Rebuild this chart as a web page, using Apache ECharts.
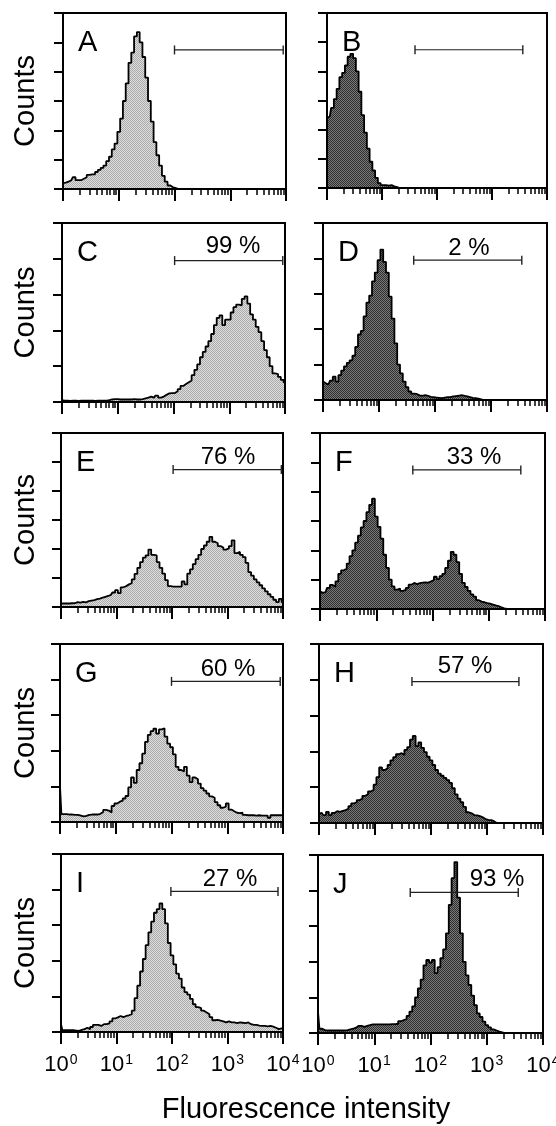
<!DOCTYPE html>
<html>
<head>
<meta charset="utf-8">
<title>Fluorescence histograms</title>
<script src="https://cdn.jsdelivr.net/npm/echarts@6/dist/echarts.min.js"></script>
<style>html,body{margin:0;padding:0;background:#fff;}</style>
</head>
<body>
<div id="main" style="width:556px;height:1126px;"></div>
<script type="text/javascript">
// channel centres in log10 units (10^0 .. 10^4), 0.05 apart
var bins = [];
for (var i = 0; i <= 80; i++) bins.push(+(i * 0.05).toFixed(2));

// counts per channel, in y-tick units
var countsA = [
  0.2, 0.22, 0.25, 0.3, 0.4, 0.3, 0.3, 0.35, 0.4, 0.48,
  0.5, 0.5, 0.58, 0.65, 0.72, 0.8, 0.95, 1.1, 1.35, 1.55,
  1.95, 2.4, 3.0, 3.6, 4.3, 4.65, 5.2, 5.35, 5.0, 4.5,
  3.8, 3.0, 2.3, 1.6, 1.15, 0.8, 0.45, 0.25, 0.12, 0.06,
  0.03, 0, 0, 0, 0, 0, 0, 0, 0, 0,
  0, 0, 0, 0, 0, 0, 0, 0, 0, 0,
  0, 0, 0, 0, 0, 0, 0, 0, 0, 0,
  0, 0, 0, 0, 0, 0, 0, 0, 0, 0,
  0];
var countsB = [
  2.4, 2.45, 2.75, 3.05, 3.4, 3.8, 3.95, 4.2, 4.5, 4.6,
  4.45, 4.0, 3.3, 2.5, 1.9, 1.35, 0.9, 0.6, 0.35, 0.17,
  0.1, 0.1, 0.08, 0.1, 0.06, 0.03, 0, 0, 0, 0,
  0, 0, 0, 0, 0, 0, 0, 0, 0, 0,
  0, 0, 0, 0, 0, 0, 0, 0, 0, 0,
  0, 0, 0, 0, 0, 0, 0, 0, 0, 0,
  0, 0, 0, 0, 0, 0, 0, 0, 0, 0,
  0, 0, 0, 0, 0, 0, 0, 0, 0, 0,
  0];
var countsC = [
  0.05, 0.04, 0.04, 0.03, 0.04, 0.04, 0.03, 0.04, 0.04, 0.04,
  0.04, 0.04, 0.03, 0.04, 0.04, 0.04, 0.04, 0.05, 0.07, 0.08,
  0.08, 0.07, 0.07, 0.07, 0.07, 0.07, 0.08, 0.07, 0.07, 0.08,
  0.1, 0.12, 0.15, 0.12, 0.18, 0.12, 0.15, 0.2, 0.24, 0.25,
  0.25, 0.3, 0.36, 0.45, 0.5, 0.55, 0.6, 0.75, 0.9, 1.05,
  1.25, 1.4, 1.55, 1.7, 1.9, 2.15, 2.35, 2.42, 2.15, 2.3,
  2.3, 2.5, 2.65, 2.72, 2.7, 2.88, 2.95, 2.75, 2.45, 2.3,
  2.1, 1.95, 1.7, 1.45, 1.25, 1.0, 0.8, 0.78, 0.7, 0.62,
  0.55];
var countsD = [
  0.52, 0.47, 0.44, 0.55, 0.66, 0.52, 0.7, 0.83, 0.95, 1.05,
  1.12, 1.25, 1.5, 1.85, 1.95, 2.36, 2.75, 2.95, 3.35, 3.6,
  3.95, 4.25, 3.9, 3.6, 2.92, 2.3, 1.6, 1.0, 0.75, 0.52,
  0.36, 0.24, 0.18, 0.17, 0.13, 0.12, 0.14, 0.12, 0.09, 0.08,
  0.07, 0.06, 0.05, 0.07, 0.08, 0.08, 0.1, 0.11, 0.12, 0.14,
  0.12, 0.1, 0.08, 0.06, 0.05, 0.04, 0.02, 0, 0, 0,
  0, 0, 0, 0, 0, 0, 0, 0, 0, 0,
  0, 0, 0, 0, 0, 0, 0, 0, 0, 0,
  0];
var countsE = [
  0.12, 0.12, 0.12, 0.12, 0.13, 0.13, 0.17, 0.15, 0.18, 0.16,
  0.2, 0.22, 0.24, 0.27, 0.29, 0.32, 0.35, 0.38, 0.42, 0.5,
  0.58, 0.48, 0.68, 0.72, 0.78, 0.82, 0.95, 1.14, 1.35, 1.55,
  1.7, 1.78, 1.98, 1.8, 1.78, 1.55, 1.35, 1.15, 0.93, 0.72,
  0.7, 0.7, 0.7, 0.7, 0.88, 0.78, 1.15, 1.3, 1.48, 1.65,
  1.8, 2.0, 2.12, 2.25, 2.42, 2.25, 2.2, 2.1, 2.05, 1.98,
  2.02, 2.1, 2.3, 1.86, 1.9, 1.8, 1.72, 1.52, 1.2, 1.08,
  0.95, 0.85, 0.75, 0.64, 0.54, 0.44, 0.35, 0.25, 0.17, 0.28,
  0.17];
var countsF = [
  0.6, 0.55, 0.58, 0.72, 0.82, 0.76, 0.94, 1.2, 1.32, 1.38,
  1.55, 1.8, 2.0, 2.26, 2.5, 2.78, 3.0, 3.3, 3.55, 3.76,
  3.15, 2.8, 2.4, 1.85, 1.4, 1.0, 0.77, 0.66, 0.7, 0.62,
  0.65, 0.72, 0.83, 0.89, 0.85, 0.88, 0.9, 0.91, 0.9, 0.94,
  1.0, 1.1, 1.02, 1.12, 1.2, 1.4, 1.65, 1.95, 1.85, 1.6,
  1.2, 0.89, 0.75, 0.62, 0.5, 0.42, 0.3, 0.25, 0.23, 0.2,
  0.18, 0.15, 0.12, 0.1, 0.06, 0.02, 0, 0, 0, 0,
  0, 0, 0, 0, 0, 0, 0, 0, 0, 0,
  0];
var countsG = [
  1.0, 0.22, 0.22, 0.21, 0.21, 0.2, 0.2, 0.18, 0.16, 0.17,
  0.2, 0.21, 0.21, 0.21, 0.23, 0.28, 0.34, 0.32, 0.27, 0.45,
  0.52, 0.57, 0.6, 0.66, 0.73, 0.97, 1.25, 1.1, 1.46, 1.65,
  1.92, 2.25, 2.45, 2.55, 2.62, 2.48, 2.6, 2.63, 2.4, 2.2,
  2.1, 1.9, 1.55, 1.46, 1.42, 1.55, 1.3, 1.12, 1.25, 1.2,
  1.08, 0.95, 0.88, 0.8, 0.72, 0.68, 0.56, 0.47, 0.4, 0.43,
  0.52, 0.35, 0.3, 0.26, 0.25, 0.26, 0.2, 0.19, 0.19, 0.19,
  0.18, 0.19, 0.18, 0.18, 0.18, 0.12, 0.19, 0.19, 0.19, 0.19,
  0.19];
var countsH = [
  0.26, 0.28, 0.22, 0.31, 0.22, 0.28, 0.33, 0.31, 0.34, 0.36,
  0.4, 0.47, 0.55, 0.58, 0.64, 0.68, 0.76, 0.8, 0.88, 0.93,
  1.07, 1.28, 1.55, 1.48, 1.53, 1.62, 1.75, 1.84, 1.92, 1.95,
  1.9, 2.04, 2.12, 2.33, 2.43, 2.15, 2.25, 2.1, 1.98, 1.85,
  1.75, 1.62, 1.48, 1.38, 1.32, 1.26, 1.2, 1.12, 0.97, 0.8,
  0.68, 0.58, 0.45, 0.3, 0.27, 0.22, 0.21, 0.19, 0.16, 0.11,
  0.09, 0.08, 0.05, 0, 0, 0, 0, 0, 0, 0,
  0, 0, 0, 0, 0, 0, 0, 0, 0, 0,
  0];
var countsI = [
  0.22, 0.05, 0.05, 0.05, 0.05, 0.04, 0.03, 0.06, 0.08, 0.12,
  0.08, 0.14, 0.2, 0.2, 0.17, 0.22, 0.22, 0.24, 0.3, 0.38,
  0.41, 0.45, 0.42, 0.45, 0.47, 0.5, 0.6, 0.95, 1.3, 1.7,
  2.05, 2.44, 2.8, 3.1, 3.35, 3.45, 3.61, 3.45, 3.05, 2.5,
  2.15, 1.9, 1.64, 1.5, 1.25, 1.12, 1.05, 0.93, 0.78, 0.7,
  0.67, 0.6, 0.55, 0.5, 0.42, 0.33, 0.34, 0.32, 0.3, 0.27,
  0.3, 0.27, 0.27, 0.25, 0.27, 0.26, 0.25, 0.27, 0.22, 0.2,
  0.2, 0.18, 0.17, 0.17, 0.16, 0.17, 0.15, 0.12, 0.08, 0.1,
  0.1];
var countsJ = [
  0.6, 0.12, 0.08, 0.07, 0.07, 0.07, 0.07, 0.07, 0.07, 0.07,
  0.08, 0.1, 0.12, 0.15, 0.2, 0.2, 0.17, 0.2, 0.22, 0.24,
  0.24, 0.24, 0.24, 0.24, 0.24, 0.24, 0.25, 0.25, 0.26, 0.33,
  0.36, 0.4, 0.48, 0.6, 0.75, 1.0, 1.25, 1.5, 1.9, 2.05,
  1.98, 2.05, 1.68, 1.85, 2.1, 2.35, 2.8, 3.6, 4.35, 4.8,
  3.8, 2.8, 2.0, 1.62, 1.35, 1.05, 0.78, 0.55, 0.45, 0.32,
  0.22, 0.16, 0.1, 0.07, 0.04, 0.02, 0, 0, 0, 0,
  0, 0, 0, 0, 0, 0, 0, 0, 0, 0,
  0];

var panelCounts = [countsA, countsB, countsC, countsD, countsE, countsF, countsG, countsH, countsI, countsJ];
var panelLetters = ['A', 'B', 'C', 'D', 'E', 'F', 'G', 'H', 'I', 'J'];
var yDivisions = [6, 6, 5, 5, 6, 6, 5, 5, 5, 5];
// marker gate, log10 units
var gateFrom = [2.0, 1.6, 2.02, 1.62, 2.02, 1.65, 2.0, 1.66, 1.98, 1.64];
var gateTo = [3.95, 3.56, 3.96, 3.55, 3.97, 3.57, 3.95, 3.57, 3.91, 3.56];
var gatePercent = ['', '', '99 %', '2 %', '76 %', '33 %', '60 %', '57 %', '27 %', '93 %'];
var decadeLabels = ['0', '1', '2', '3', '4'];

// layout: [left, top, width, height] of each frame
var boxes = [
  [63, 13, 223, 176], [327, 13, 220, 175],
  [62, 223, 223, 179], [323, 223, 224, 177],
  [61, 433, 222, 174], [320, 433, 225, 176],
  [60, 644, 223, 178], [319, 644, 224, 179],
  [61, 854, 222, 178], [318, 855, 225, 178]
];
var pctPos = [null, null, [233, 246], [469, 248], [228, 457], [474, 457], [228, 669], [465, 666], [230, 879], [497, 879]];
var GATE_FRAC = 0.79;
var FONT = '"Liberation Sans", Arial, Helvetica, sans-serif';

// halftone-like fills, as in the scanned print
function stipple(c1, c2) {
  var cv = document.createElement('canvas');
  cv.width = 2; cv.height = 2;
  var ctx = cv.getContext('2d');
  ctx.fillStyle = c1; ctx.fillRect(0, 0, 2, 2);
  ctx.fillStyle = c2; ctx.fillRect(0, 0, 1, 1); ctx.fillRect(1, 1, 1, 1);
  return { image: cv, repeat: 'repeat' };
}
var lightFill = stipple('#dedede', '#aaaaaa');
var darkFill = stipple('#7a7a7a', '#2e2e2e');

var minorTicks = [];
for (var d = 0; d < 4; d++) for (var k = 2; k <= 9; k++) minorTicks.push(d + Math.log10(k));

var grid = [], xAxis = [], yAxis = [], series = [], graphic = [];

panelCounts.forEach(function (counts, p) {
  var b = boxes[p];
  var bottomRow = p >= 8;
  grid.push({ left: b[0], top: b[1], width: b[2], height: b[3], show: true,
    borderColor: '#000', borderWidth: 2, backgroundColor: 'rgba(0,0,0,0)', z: 10,
    containLabel: false, outerBoundsMode: 'none' });

  xAxis.push({
    type: 'value', gridIndex: p, position: 'bottom', min: 0, max: 4, interval: 1,
    axisLine: { show: false }, splitLine: { show: false },
    axisTick: { show: true, length: 12, lineStyle: { color: '#000', width: 2 } },
    axisLabel: {
      show: bottomRow, margin: 21,
      formatter: function (v) { return '{b|10}{s|' + decadeLabels[Math.round(v)] + '}'; },
      rich: {
        b: { fontSize: 22, fontFamily: FONT, color: '#000', lineHeight: 24 },
        s: { fontSize: 14, fontFamily: FONT, color: '#000', lineHeight: 14, verticalAlign: 'top', padding: [0, 0, 0, 1] }
      }
    }
  });
  xAxis.push({
    type: 'value', gridIndex: p, position: 'bottom', min: 0, max: 4,
    axisLine: { show: false }, splitLine: { show: false }, axisLabel: { show: false },
    axisTick: { show: true, length: 6, customValues: minorTicks, lineStyle: { color: '#000', width: 1.5 } }
  });
  yAxis.push({
    type: 'value', gridIndex: p, min: 0, max: yDivisions[p], interval: 1,
    axisLine: { show: false }, splitLine: { show: false }, axisLabel: { show: false },
    axisTick: { show: true, length: 9, lineStyle: { color: '#000', width: 2 } }
  });

  series.push({
    type: 'line', xAxisIndex: 2 * p, yAxisIndex: p, step: 'middle', symbol: 'none',
    silent: true, z: 2,
    data: bins.map(function (x, i) { return [x, counts[i]]; }),
    lineStyle: { color: '#000', width: 1.8 },
    areaStyle: { color: p % 2 === 0 ? lightFill : darkFill, opacity: 1 }
  });
  var level = GATE_FRAC * yDivisions[p];
  series.push({
    type: 'line', xAxisIndex: 2 * p, yAxisIndex: p, silent: true, z: 4,
    data: [[gateFrom[p], level], [gateTo[p], level]],
    symbol: 'rect', symbolSize: [1.4, 9],
    itemStyle: { color: '#222' }, lineStyle: { color: '#222', width: 1.2 }
  });

  graphic.push({ type: 'text', x: b[0] + 15, y: b[1] + 30,
    style: { text: panelLetters[p], fill: '#000', font: '29px ' + FONT,
      align: 'left', textAlign: 'left', verticalAlign: 'middle', textVerticalAlign: 'middle' } });
  if (pctPos[p]) {
    graphic.push({ type: 'text', x: pctPos[p][0], y: pctPos[p][1],
      style: { text: gatePercent[p], fill: '#000', font: '24px ' + FONT,
        align: 'center', textAlign: 'center', verticalAlign: 'middle', textVerticalAlign: 'middle' } });
  }
  if (p % 2 === 0) {
    graphic.push({ type: 'text', x: 26, y: b[1] + b[3] / 2, rotation: Math.PI / 2,
      style: { text: 'Counts', fill: '#000', font: '29px ' + FONT,
        align: 'center', textAlign: 'center', verticalAlign: 'middle', textVerticalAlign: 'middle' } });
  }
});

graphic.push({ type: 'text', x: 306, y: 1110,
  style: { text: 'Fluorescence intensity', fill: '#000', font: '29px ' + FONT,
    align: 'center', textAlign: 'center', verticalAlign: 'middle', textVerticalAlign: 'middle' } });

var myChart = echarts.init(document.getElementById('main'), null, { renderer: 'canvas' });
myChart.setOption({
  animation: false,
  backgroundColor: '#fff',
  textStyle: { fontFamily: FONT },
  grid: grid,
  xAxis: xAxis,
  yAxis: yAxis,
  series: series,
  graphic: graphic
});
</script>
</body>
</html>
